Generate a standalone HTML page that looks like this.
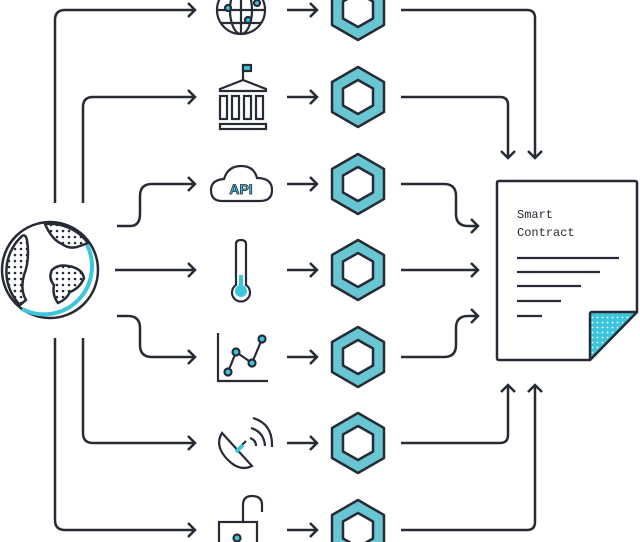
<!DOCTYPE html>
<html><head><meta charset="utf-8"><style>
html,body{margin:0;padding:0;background:#fff;width:640px;height:542px;overflow:hidden}
svg{display:block}
</style></head><body>
<svg width="640" height="542" viewBox="0 0 640 542" xmlns="http://www.w3.org/2000/svg">
<defs>
<pattern id="dots" width="6" height="6" patternUnits="userSpaceOnUse"><circle cx="3" cy="3" r="1.3" fill="#262b36"/></pattern>
<pattern id="wdots" width="5" height="5" patternUnits="userSpaceOnUse"><rect width="5" height="5" fill="#3cc6dc"/><circle cx="2.5" cy="2.5" r="0.9" fill="#fff"/></pattern>
<g id="hex">
<polygon points="0,-30 26,-15 26,15 0,30 -26,15 -26,-15" fill="#68c6d3" stroke="#262b36" stroke-width="2.5" stroke-linejoin="round"/>
<polygon points="0,-17 15,-8.5 15,8.5 0,17 -15,8.5 -15,-8.5" fill="#fff" stroke="#262b36" stroke-width="2.5" stroke-linejoin="round"/>
</g>
<g id="arr"><path d="M0,0 H30 M23,-7 L30,0 L23,7" fill="none" stroke="#262b36" stroke-width="2.5"/></g>
</defs>
<g fill="none" stroke="#262b36" stroke-width="2.5" stroke-linecap="butt">
<path d="M55,203 V20 Q55,10 65,10 H195"/>
<path d="M188,3 L195,10 L188,17"/>
<path d="M83,203 V107 Q83,97 93,97 H195"/>
<path d="M188,90 L195,97 L188,104"/>
<path d="M117,226 H130 Q140,226 140,214 V196 Q140,184 152,184 H195"/>
<path d="M188,177 L195,184 L188,191"/>
<path d="M115,270 H195"/>
<path d="M188,263 L195,270 L188,277"/>
<path d="M117,316 H128 Q140,316 140,328 V345 Q140,357 152,357 H195"/>
<path d="M188,350 L195,357 L188,364"/>
<path d="M83,338 V433 Q83,443 93,443 H195"/>
<path d="M188,436 L195,443 L188,450"/>
<path d="M55,338 V520 Q55,530 65,530 H195"/>
<path d="M188,523 L195,530 L188,537"/>
<path d="M401,10 H527 Q535,10 535,18 V158"/>
<path d="M528,151 L535,158 L542,151"/>
<path d="M401,97 H500 Q508,97 508,105 V158"/>
<path d="M501,151 L508,158 L515,151"/>
<path d="M401,184 H444 Q456,184 456,196 V214 Q456,226 468,226 H478"/>
<path d="M471,219 L478,226 L471,233"/>
<path d="M401,270 H478"/>
<path d="M471,263 L478,270 L471,277"/>
<path d="M401,357 H444 Q456,357 456,345 V328 Q456,316 468,316 H478"/>
<path d="M471,309 L478,316 L471,323"/>
<path d="M401,443 H500 Q508,443 508,435 V385"/>
<path d="M501,392 L508,385 L515,392"/>
<path d="M401,530 H527 Q535,530 535,522 V385"/>
<path d="M528,392 L535,385 L542,392"/>
</g>
<use href="#arr" x="287" y="10"/><use href="#arr" x="287" y="97"/><use href="#arr" x="287" y="184"/>
<use href="#arr" x="287" y="270"/><use href="#arr" x="287" y="357"/><use href="#arr" x="287" y="443"/><use href="#arr" x="287" y="530"/>
<use href="#hex" x="358" y="10"/><use href="#hex" x="358" y="97"/><use href="#hex" x="358" y="184"/>
<use href="#hex" x="358" y="270"/><use href="#hex" x="358" y="357"/><use href="#hex" x="358" y="443"/><use href="#hex" x="358" y="530"/>
<g stroke="#262b36" stroke-width="2.5">
<circle cx="50" cy="270" r="48" fill="#fff"/>
<path d="M87,245 A48,48 0 0 1 22,309" fill="none" stroke="#3cc6dc" stroke-width="4"/>
<path d="M45,224 Q52,240 62,244 Q70,250 80,246 L88,243 A48,48 0 0 0 45,224 Z" fill="url(#dots)"/>
<path d="M20,238 Q25,232 27,240 Q30,260 24,275 Q20,290 26,300 L20,305 A48,48 0 0 1 20,238Z" fill="url(#dots)"/>
<path d="M52,270 Q58,264 68,266 Q82,268 84,278 Q80,288 70,292 Q66,300 58,303 Q52,295 54,285 Q48,278 52,270Z" fill="url(#dots)"/>
</g>
<g fill="none" stroke="#262b36" stroke-width="2.2">
<circle cx="241" cy="10" r="24"/>
<ellipse cx="241" cy="10" rx="11" ry="24"/>
<path d="M217,10 H265 M241,-14 V34 M221,-3 H261 M221,23 H261"/>
<circle cx="228" cy="8" r="3" fill="#3cc6dc"/><circle cx="257" cy="3" r="3" fill="#3cc6dc"/><circle cx="248" cy="20" r="3" fill="#3cc6dc"/>
</g>
<g fill="none" stroke="#262b36" stroke-width="2.2">
<path d="M243,80 V65"/><rect x="243" y="65" width="8" height="6" fill="#3cc6dc"/>
<path d="M220,89 L243,80 L266,89 V91 H220 Z"/>
<rect x="220" y="96" width="7" height="23"/><rect x="232" y="96" width="7" height="23"/>
<rect x="244" y="96" width="7" height="23"/><rect x="256" y="96" width="7" height="23"/>
<rect x="220" y="124" width="46" height="5"/>
</g>
<g>
<path d="M222,201 Q211,201 211,190 Q211,180 224,179 Q228,166 241,166 Q254,166 257,178 Q272,178 272,190 Q272,201 260,201 Z" fill="#fff" stroke="#262b36" stroke-width="2.2"/>
<text x="241" y="194" text-anchor="middle" font-family="Liberation Sans, sans-serif" font-weight="bold" font-size="14" fill="#3cc6dc" stroke="#262b36" stroke-width="0.8">API</text>
</g>
<g stroke="#262b36" stroke-width="2.2">
<path d="M236,244 Q236,240 241,240 Q246,240 246,244 V285 A9,9 0 1 1 236,285 Z" fill="#fff"/>
<circle cx="241" cy="291" r="6" fill="#3cc6dc" stroke="none"/>
<rect x="239" y="275" width="4" height="12" fill="#3cc6dc" stroke="none"/>
</g>
<g fill="none" stroke="#262b36" stroke-width="2.2">
<path d="M218,333 V381 H268"/>
<path d="M228,372 L236,352 L252,363 L262,339"/>
<circle cx="228" cy="372" r="3.5" fill="#3cc6dc"/><circle cx="236" cy="352" r="3.5" fill="#3cc6dc"/>
<circle cx="252" cy="363" r="3.5" fill="#3cc6dc"/><circle cx="262" cy="339" r="3.5" fill="#3cc6dc"/>
</g>
<g fill="none" stroke="#262b36" stroke-width="2.2">
<path d="M222,433 Q214,446 228,460 Q240,472 252,466 Z"/>
<path d="M237,450 L246,441"/>
<path d="M236,452 L243,445" stroke="#3cc6dc" stroke-width="4"/>
<path d="M250,438 Q256,440 256,446 M251,428 Q264,432 265,446 M253,418 Q273,424 272,447"/>
</g>
<g fill="none" stroke="#262b36" stroke-width="2.2">
<path d="M243,522 V505 Q243,496 252,496 Q262,496 262,505 V512"/>
<rect x="219" y="522" width="38" height="30" fill="#fff"/>
<circle cx="237" cy="538" r="3.5" fill="#3cc6dc"/>
</g>
<g stroke="#262b36" stroke-width="2.5" stroke-linejoin="round">
<path d="M499,181 H635 Q637,181 637,183 V312 L590,360 H499 Q497,360 497,358 V183 Q497,181 499,181 Z" fill="#fff"/>
<path d="M590,360 V314 Q590,312 592,312 H637 Z" fill="url(#wdots)"/>
<path d="M517,258 H619 M517,272 H600 M517,286 H581 M517,301 H561 M517,316 H542" fill="none" stroke-width="2.2"/>
</g>
<text x="517" y="218" font-family="Liberation Mono, monospace" font-size="12" fill="#262b36">Smart</text>
<text x="517" y="236" font-family="Liberation Mono, monospace" font-size="12" fill="#262b36">Contract</text>
</svg>
</body></html>
